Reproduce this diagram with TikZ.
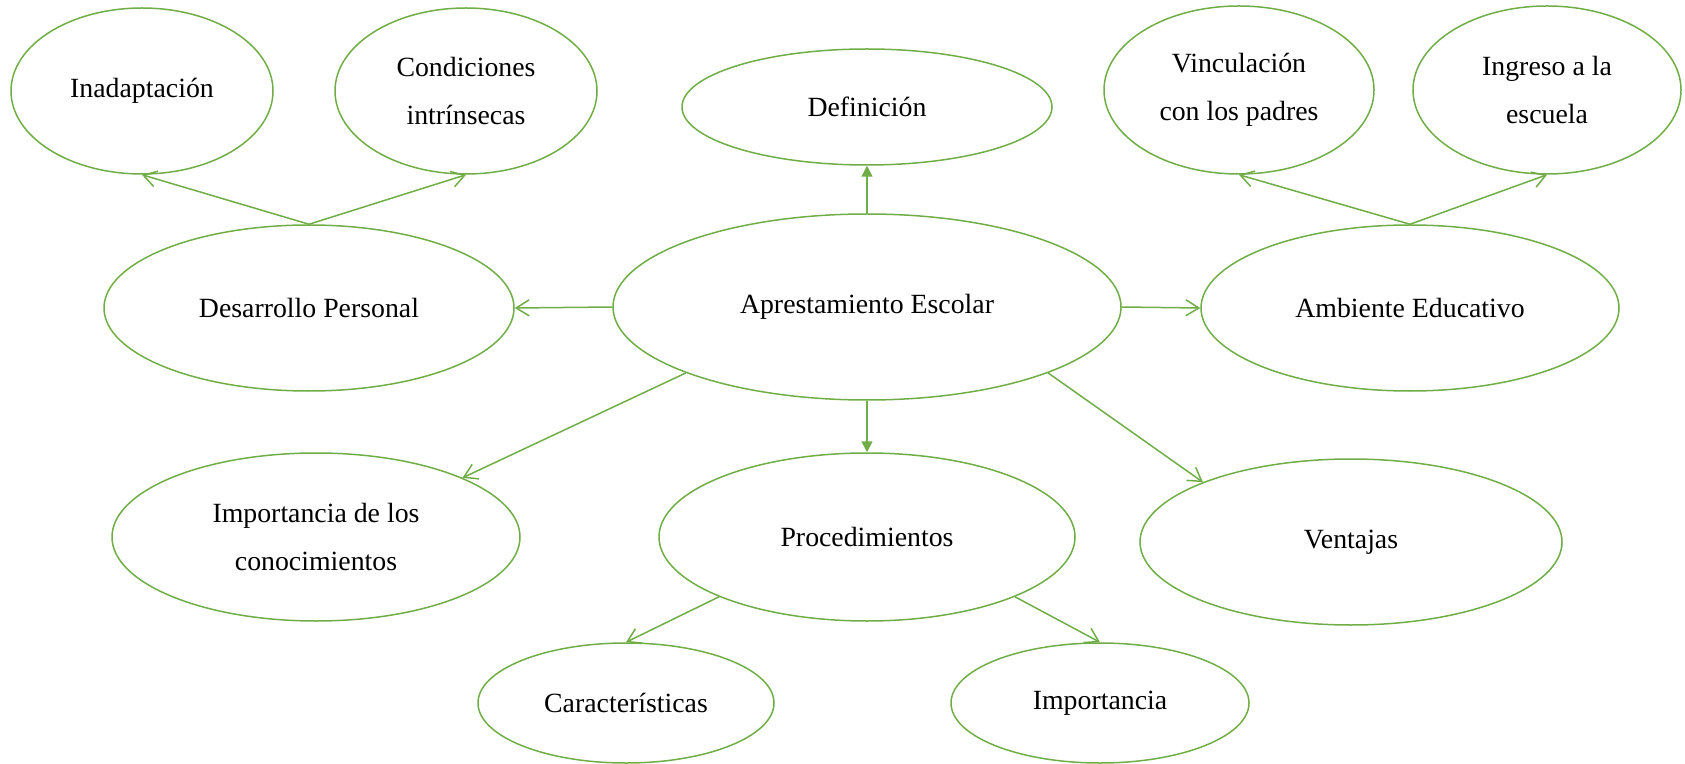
\documentclass[tikz,border=0pt]{standalone}
\usepackage{fontspec}
\setmainfont{Liberation Serif}
\usetikzlibrary{shapes.geometric,arrows.meta}
\definecolor{bubgreen}{RGB}{112,173,71}

\begin{document}
\begin{tikzpicture}[x=0.5pt,y=-0.5pt,
  bubble/.style={ellipse, draw=bubgreen, line width=0.75pt, inner sep=0pt, align=center,
    font=\fontsize{13.9}{24}\selectfont},
  link/.style={draw=bubgreen, line width=0.75pt, -{Straight Barb[length=6.5pt,width=8pt]}},
  mainlink/.style={draw=bubgreen, line width=0.75pt, -{Triangle[length=5.5pt,width=5.5pt]}}]

  \useasboundingbox (0,0) rectangle (1685,764);

  \node[bubble, minimum width=254pt, minimum height=93pt] (apres) at (867,307) {Aprestamiento Escolar};
  \node[bubble, minimum width=185pt, minimum height=58pt] (defin) at (867,107) {Definición};
  \node[bubble, minimum width=205pt, minimum height=83pt] (desarr) at (309,308) {Desarrollo Personal};
  \node[bubble, minimum width=209pt, minimum height=83pt] (ambien) at (1410,308) {Ambiente Educativo};
  \node[bubble, minimum width=208pt, minimum height=84pt] (proced) at (867,537) {Procedimientos};
  \node[bubble, minimum width=204pt, minimum height=84pt] (conoc) at (316,537) {Importancia de los\\conocimientos};
  \node[bubble, minimum width=211pt, minimum height=83pt] (ventaj) at (1351,542) {Ventajas};

  \node[bubble, minimum width=131pt, minimum height=83pt] (inadap) at (142,91) {Inadaptación};
  \node[bubble, minimum width=131pt, minimum height=83pt] (condic) at (466,91) {Condiciones\\intrínsecas};
  \node[bubble, minimum width=135pt, minimum height=84pt] (vincul) at (1239,90) {Vinculación\\con los padres};
  \node[bubble, minimum width=134pt, minimum height=84pt] (ingres) at (1547,90) {Ingreso a la\\escuela};
  \node[bubble, minimum width=148pt, minimum height=60pt] (caract) at (626,703) {Características};
  \node[bubble, minimum width=149pt, minimum height=60pt] (import) at (1100,703) {Importancia};

  \draw[mainlink] (apres.north) -- (defin.south);
  \draw[mainlink] (apres.south) -- (proced.north);
  \draw[link] (apres.west) -- (desarr.east);
  \draw[link] (apres.east) -- (ambien.west);
  \draw[link] (apres.200) -- (conoc.22);
  \draw[link] (apres.340) -- (ventaj.158);

  \draw[link] (desarr.north) -- (inadap.south);
  \draw[link] (desarr.north) -- (condic.south);
  \draw[link] (ambien.north) -- (vincul.south);
  \draw[link] (ambien.north) -- (ingres.south);
  \draw[link] (proced.202) -- (caract.north);
  \draw[link] (proced.338) -- (import.north);

\end{tikzpicture}
\end{document}
